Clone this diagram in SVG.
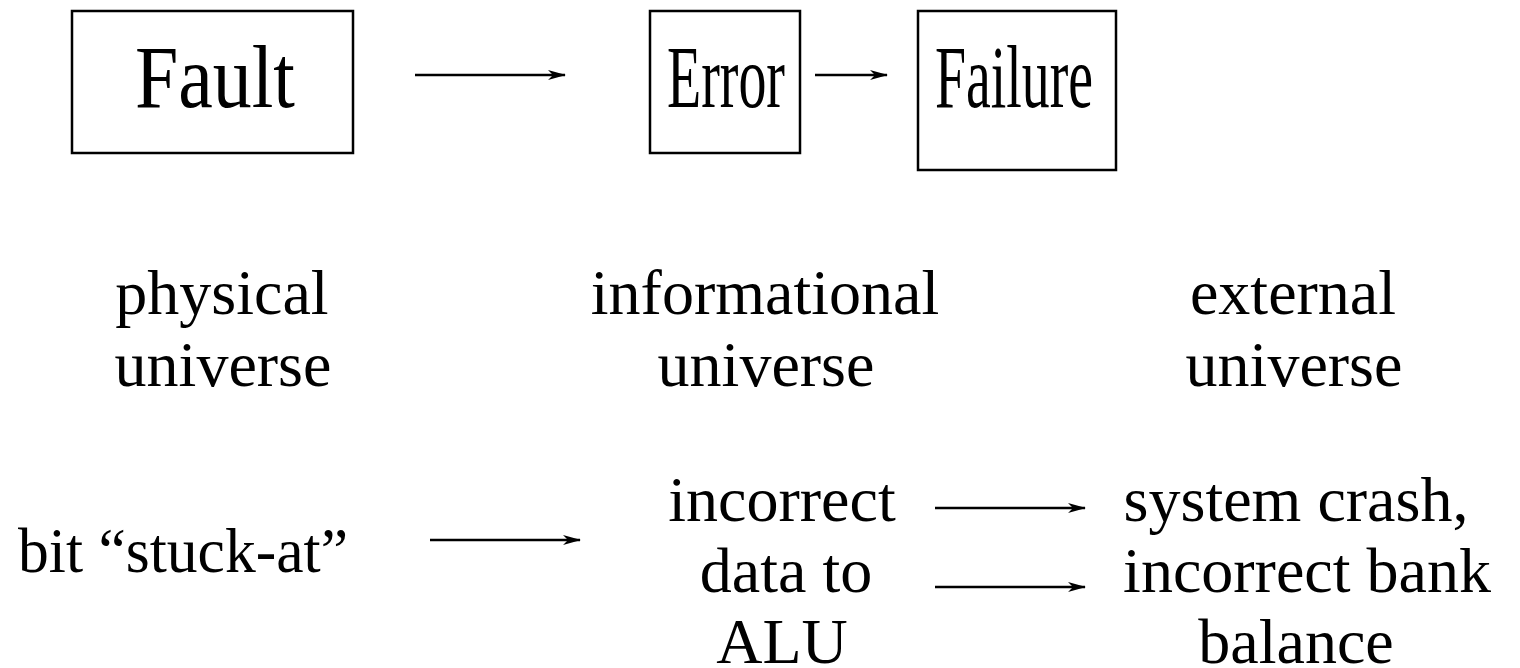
<svg xmlns="http://www.w3.org/2000/svg" width="1520" height="668" viewBox="0 0 1520 668">
<style>
.box{fill:#fff;stroke:#000;stroke-width:2.5}
.big{font-family:"Liberation Serif","Times New Roman",serif;font-size:88px;fill:#000}
.t{font-family:"Liberation Serif","Times New Roman",serif;font-size:64px;fill:#000;text-anchor:middle}
.tl{font-family:"Liberation Serif","Times New Roman",serif;font-size:64px;fill:#000}
.arr{stroke:#000;stroke-width:2.4;fill:none;marker-end:url(#ah)}
</style>
<defs>
<marker id="ah" markerWidth="18" markerHeight="10" refX="17" refY="5" orient="auto" markerUnits="userSpaceOnUse">
<path d="M0,0 L18,5 L0,10 L5,5 z" fill="#000"/>
</marker>
</defs>
<rect width="1520" height="668" fill="#fff"/>
<g id="fault">
<rect class="box" x="72" y="11" width="281" height="142"/>
<text class="big" x="135" y="107" textLength="160" lengthAdjust="spacingAndGlyphs">Fault</text>
</g>
<g id="error">
<rect class="box" x="650" y="11" width="150" height="142"/>
<text class="big" x="667" y="107" textLength="118" lengthAdjust="spacingAndGlyphs">Error</text>
</g>
<g id="failure">
<rect class="box" x="918" y="11" width="198" height="159"/>
<text class="big" x="935" y="107" textLength="158" lengthAdjust="spacingAndGlyphs">Failure</text>
</g>
<g id="physical">
<text class="t" x="222" y="314">physical</text>
<text class="t" x="223" y="386">universe</text>
</g>
<g id="informational">
<text class="t" x="765" y="314">informational</text>
<text class="t" x="766" y="386">universe</text>
</g>
<g id="external">
<text class="t" x="1293" y="314">external</text>
<text class="t" x="1294" y="386">universe</text>
</g>
<g id="stuck">
<text class="tl" x="18" y="572" textLength="330" lengthAdjust="spacingAndGlyphs">bit “stuck-at”</text>
</g>
<g id="incorrect-data">
<text class="t" x="782" y="521">incorrect</text>
<text class="t" x="786" y="592">data to</text>
<text class="t" x="782" y="663">ALU</text>
</g>
<g id="consequence">
<text class="t" x="1296" y="521">system crash,</text>
<text class="t" x="1307" y="592">incorrect bank</text>
<text class="t" x="1296" y="663">balance</text>
</g>
<g id="connectors">
<line class="arr" x1="415" y1="75" x2="565" y2="75"/>
<line class="arr" x1="815" y1="75" x2="887" y2="75"/>
<line class="arr" x1="430" y1="540" x2="580" y2="540"/>
<line class="arr" x1="935" y1="508" x2="1085" y2="508"/>
<line class="arr" x1="935" y1="587" x2="1085" y2="587"/>
</g>
</svg>
